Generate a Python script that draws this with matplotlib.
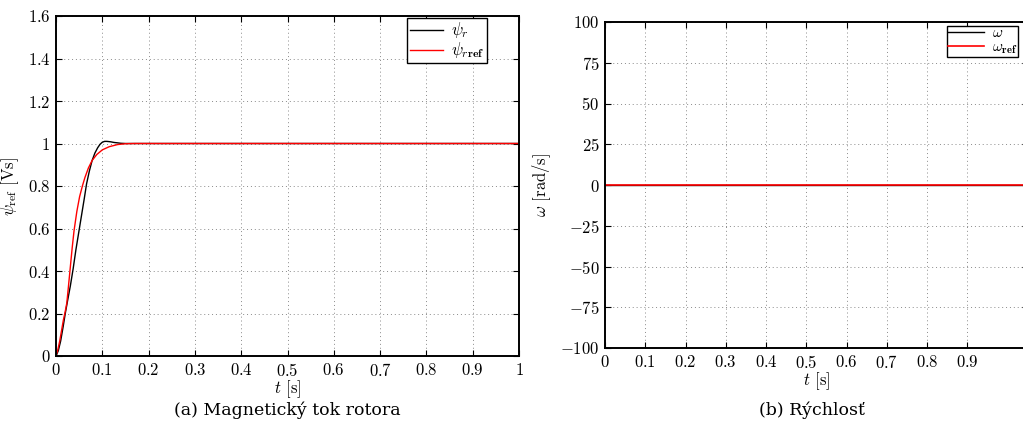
import matplotlib
matplotlib.use("Agg")
import matplotlib.pyplot as plt

plt.rcParams['font.family'] = ['cmr10', 'DejaVu Serif']
plt.rcParams['mathtext.fontset'] = 'cm'
plt.rcParams['axes.unicode_minus'] = False
plt.rcParams['font.size'] = 12

# magneticky tok - hodnoty odcitane z grafu
t_psi = [0, 0.005, 0.01, 0.0156, 0.02, 0.025, 0.031, 0.037, 0.043, 0.049, 0.055, 0.061,
         0.066, 0.072, 0.078, 0.084, 0.09, 0.095, 0.1, 0.105, 0.11, 0.118, 0.125, 0.133,
         0.14, 0.15, 0.16, 0.2, 0.3, 0.5, 0.7, 1.0]
psi_r = [0, 0.025, 0.07, 0.14, 0.2, 0.26, 0.33, 0.41, 0.5, 0.58, 0.66, 0.74,
         0.81, 0.87, 0.92, 0.955, 0.98, 0.996, 1.006, 1.01, 1.01, 1.008, 1.005, 1.003,
         1.001, 1.0, 1.0, 1.0, 1.0, 1.0, 1.0, 1.0]
t_ref = [0, 0.004, 0.008, 0.012, 0.016, 0.02, 0.0234, 0.027, 0.031, 0.035, 0.039, 0.045,
         0.051, 0.057, 0.0625, 0.07, 0.078, 0.088, 0.1, 0.115, 0.133, 0.15, 0.17, 0.2,
         0.3, 0.5, 0.7, 1.0]
psi_ref = [0, 0.03, 0.07, 0.12, 0.17, 0.21, 0.25, 0.33, 0.42, 0.51, 0.59, 0.68,
           0.75, 0.8, 0.84, 0.885, 0.92, 0.948, 0.97, 0.985, 0.995, 0.999, 1.0, 1.0,
           1.0, 1.0, 1.0, 1.0]

# rychlost
t_w = [0, 1.05]
w = [0, 0]
w_ref = [0, 0]

psi_ticks = [0, 0.2, 0.4, 0.6, 0.8, 1, 1.2, 1.4, 1.6]
t_ticks = [0, 0.1, 0.2, 0.3, 0.4, 0.5, 0.6, 0.7, 0.8, 0.9, 1]
w_ticks = [-100, -75, -50, -25, 0, 25, 50, 75, 100]

W, H = 1023, 434
fig = plt.figure(figsize=(W / 100, H / 100), dpi=100)


def style(ax):
    ax.grid(True, linestyle=(0, (1, 3)), color='#8a8a8a', linewidth=0.7)
    ax.tick_params(direction='in', top=True, right=True, length=4, width=0.8, pad=4)
    for s in ax.spines.values():
        s.set_linewidth(1.4)


ax1 = fig.add_axes([56 / W, 1 - 356 / H, (519 - 56) / W, (356 - 16) / H])
ax1.plot(t_psi, psi_r, color='black', linewidth=1.0, label=r'$\psi_r$')
ax1.plot(t_ref, psi_ref, color='red', linewidth=1.0, label=r'$\psi_{r\mathbf{ref}}$')
ax1.set_xlim(0, 1)
ax1.set_ylim(0, 1.6)
ax1.set_xticks(t_ticks)
ax1.set_xticklabels(['$%g$' % v for v in t_ticks])
ax1.set_yticks(psi_ticks)
ax1.set_yticklabels(['$%g$' % v for v in psi_ticks])
ax1.set_xlabel(r'$t$ [s]', labelpad=0)
ax1.set_ylabel(r'$\psi_{\mathrm{ref}}$ [Vs]', labelpad=5)
style(ax1)
leg = ax1.legend(loc='upper right', bbox_to_anchor=(487 / W, 1 - 18 / H),
                 bbox_transform=fig.transFigure, fontsize=12, fancybox=False,
                 framealpha=1, edgecolor='black', borderpad=0.15, handlelength=2.0,
                 handletextpad=0.5, labelspacing=0.0, borderaxespad=0)
leg.get_frame().set_linewidth(1.0)

xmax2 = 1.05
ax2 = fig.add_axes([605 / W, 1 - 348 / H, xmax2 * 402.5 / W, (348 - 22) / H])
ax2.plot(t_w, w, color='black', linewidth=1.0, label=r'$\omega$')
ax2.plot(t_w, w_ref, color='red', linewidth=1.2, label=r'$\omega_{\mathbf{ref}}$')
ax2.set_xlim(0, xmax2)
ax2.set_ylim(-100, 100)
ax2.set_xticks(t_ticks[:-1])
ax2.set_xticklabels(['$%g$' % v for v in t_ticks[:-1]])
ax2.set_yticks(w_ticks)
ax2.set_yticklabels(['$%g$' % v for v in w_ticks])
ax2.set_xlabel(r'$t$ [s]', labelpad=0)
ax2.set_ylabel(r'$\omega$ [rad/s]', labelpad=5)
style(ax2)
leg2 = ax2.legend(loc='upper left', bbox_to_anchor=(947 / W, 1 - 26 / H),
                  bbox_transform=fig.transFigure, fontsize=11, fancybox=False,
                  framealpha=1, edgecolor='black', borderpad=0.05, handlelength=2.4,
                  handletextpad=0.5, labelspacing=0.0, borderaxespad=0)
leg2.get_frame().set_linewidth(1.0)

fig.text(287 / W, 1 - 410 / H, '(a) Magnetický tok rotora', ha='center', va='center',
         fontsize=12.5, family=['DejaVu Serif'])
fig.text(812 / W, 1 - 410 / H, '(b) Rýchlosť', ha='center', va='center',
         fontsize=12.5, family=['DejaVu Serif'])

fig.savefig('out.png', dpi=100)
